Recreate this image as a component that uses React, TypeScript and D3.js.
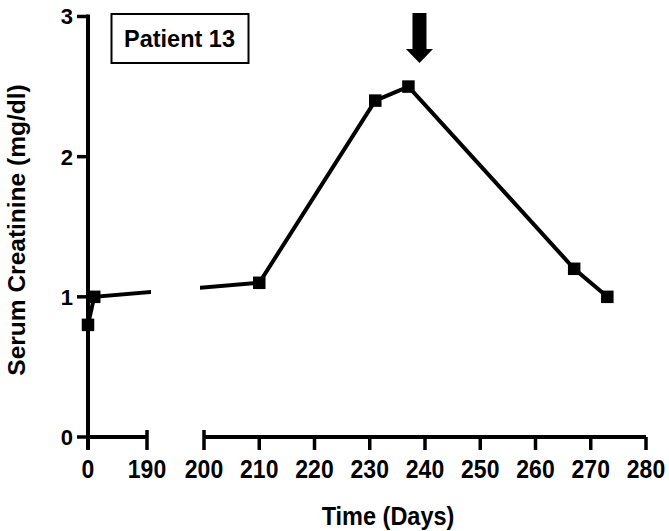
import React from "react";
import * as d3 from "d3";

const days = [0, 20, 210, 231, 237, 267, 273];
const creatinine = [0.8, 1.0, 1.1, 2.4, 2.5, 1.2, 1.0];
const xTicksLeft = [0, 190];
const xTicksRight = [200, 210, 220, 230, 240, 250, 260, 270, 280];
const yTicks = [0, 1, 2, 3];
const arrowDay = 239;
const title = "Patient 13";

const W = 669;
const H = 531;
const font = "'Liberation Sans', Arial, Helvetica, sans-serif";

export default function App() {
  const x = d3.scaleLinear().domain([0, 190, 200, 280]).range([88, 147, 204, 646]);
  const y = d3.scaleLinear().domain([0, 3]).range([437, 16.5]);
  const pts: [number, number][] = days.map((d, i) => [x(d), y(creatinine[i])]);
  const line = d3.line()(pts) || "";
  const y0 = y(0);
  const ax = x(arrowDay);
  const ms = 12.5;

  return (
    <svg width={W} height={H} style={{ position: "absolute", left: 0, top: 0, background: "#fff" }}>
      <defs>
        <mask id="gap">
          <rect x={0} y={0} width={W} height={H} fill="#fff" />
          <rect x={151} y={0} width={49} height={H} fill="#000" />
        </mask>
      </defs>
      {/* y axis */}
      <line x1={x(0)} x2={x(0)} y1={y(3) - 2} y2={y0 + 13} stroke="#000" strokeWidth={4} />
      {yTicks.map((t) => (
        <g key={t}>
          <line x1={x(0) - 11} x2={x(0)} y1={y(t)} y2={y(t)} stroke="#000" strokeWidth={3.5} />
          <text x={73} y={y(t)} dy="0.36em" textAnchor="end" fontFamily={font} fontWeight="bold" fontSize={22}>{t}</text>
        </g>
      ))}
      {/* x axis segments */}
      <line x1={x(0)} x2={x(190)} y1={y0} y2={y0} stroke="#000" strokeWidth={4} />
      <line x1={x(200)} x2={x(280)} y1={y0} y2={y0} stroke="#000" strokeWidth={4} />
      {xTicksLeft.concat(xTicksRight).map((t) => {
        const isEnd = t === 190 || t === 200;
        return (
          <g key={t}>
            <line x1={x(t)} x2={x(t)} y1={isEnd ? y0 - 7 : y0} y2={y0 + 13} stroke="#000" strokeWidth={3.5} />
            <text transform={`translate(${x(t)},478) scale(1,1.12)`} textAnchor="middle" fontFamily={font} fontWeight="bold" fontSize={23}>{t}</text>
          </g>
        );
      })}
      {/* data line */}
      <path d={line} fill="none" stroke="#000" strokeWidth={4} mask="url(#gap)" />
      {pts.map(([px, py], i) => (
        <rect key={i} x={px - ms / 2} y={py - ms / 2} width={ms} height={ms} fill="#000" />
      ))}
      {/* arrow */}
      <path
        d={`M${ax - 7},13 L${ax + 7},13 L${ax + 7},49 L${ax + 13.5},49 L${ax},63 L${ax - 13.5},49 L${ax - 7},49 Z`}
        fill="#000"
      />
      {/* title box */}
      <rect x={111.5} y={14} width={137} height={49} fill="#fff" stroke="#000" strokeWidth={2} />
      <text x={179.5} y={46.5} textAnchor="middle" fontFamily={font} fontWeight="bold" fontSize={23.5}>{title}</text>
      {/* axis labels */}
      <text transform="translate(388,525) scale(1,1.12)" textAnchor="middle" fontFamily={font} fontWeight="bold" fontSize={23.5}>Time (Days)</text>
      <text transform="translate(25,230) rotate(-90)" textAnchor="middle" fontFamily={font} fontWeight="bold" fontSize={24.5}>Serum Creatinine (mg/dl)</text>
    </svg>
  );
}
